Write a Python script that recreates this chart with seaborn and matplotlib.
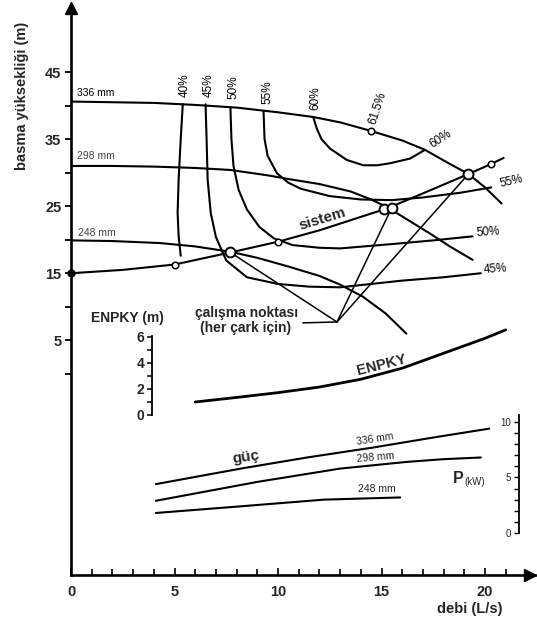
import matplotlib
matplotlib.use("Agg")
import matplotlib.pyplot as plt
import seaborn as sns

# Pump head curves H (m) against flow Q (L/s) for each impeller diameter
q_336 = [0, 2, 4, 6, 8, 10, 11.7, 13, 14.4, 16, 17.1, 18.3, 19.2, 20, 20.8]
h_336 = [40.6, 40.5, 40.4, 40.1, 39.7, 39.0, 38.3, 37.5, 36.3, 34.8, 33.4, 31.3, 29.8, 27.8, 25.4]
q_298 = [0, 2, 4, 6, 7.7, 9.5, 10.6, 12, 13.5, 14.5, 15.3, 16.3, 17.3, 18.3, 19.4]
h_298 = [31.0, 31.0, 30.9, 30.7, 30.4, 29.6, 29.0, 28.3, 27.2, 26.0, 24.8, 22.9, 21.0, 19.0, 17.0]
q_248 = [0, 2, 4.3, 6, 7.7, 9, 10.5, 12, 13, 14.1, 15.2, 16.2]
h_248 = [19.9, 19.8, 19.5, 19.0, 18.2, 17.3, 16.0, 14.6, 13.3, 11.5, 9.0, 6.0]

# System curve and its marked points
q_sys = [0, 2.5, 5, 7.7, 10, 12, 15.3, 17.3, 19.2, 20.3, 20.9]
h_sys = [15.0, 15.5, 16.3, 18.1, 19.7, 21.4, 24.7, 27.3, 29.8, 31.3, 32.2]
q_sys_pts = [5, 10, 20.3]
h_sys_pts = [16.3, 19.7, 31.3]
# Operating points (system curve x impeller curve)
q_op = [7.7, 15.1, 15.5, 19.2]
h_op = [18.1, 24.6, 24.8, 29.8]
# Best efficiency point on the 336 mm curve
q_best = [14.5]
h_best = [36.2]

# Iso-efficiency curves
q_e40 = [5.4, 5.3, 5.2, 5.15, 5.2, 5.3]
h_e40 = [40.2, 35.0, 29.0, 24.0, 20.5, 17.6]
q_e45 = [6.5, 6.55, 6.6, 6.75, 7.0, 7.5, 8.5, 10.0, 11.5, 13.0, 16.0, 18.0, 19.8]
h_e45 = [40.2, 35.0, 29.0, 24.0, 20.4, 16.9, 14.4, 13.4, 13.0, 12.9, 13.9, 14.4, 15.0]
q_e50 = [7.7, 7.75, 7.85, 8.1, 8.5, 9.1, 9.8, 10.7, 12.0, 13.0, 15.7, 17.5, 19.4]
h_e50 = [39.8, 35.0, 31.0, 27.4, 24.5, 21.9, 20.2, 19.2, 18.8, 18.7, 19.4, 19.9, 20.5]
q_e55 = [9.3, 9.35, 9.5, 9.95, 10.5, 11.1, 12.5, 14.0, 15.5, 17.0, 18.8, 20.3]
h_e55 = [39.2, 35.0, 32.5, 29.9, 28.5, 27.6, 26.5, 26.0, 25.9, 26.3, 27.0, 27.8]
q_e60 = [11.7, 11.87, 12.1, 12.51, 13.32, 14.12, 14.8, 15.41, 16.38, 17.1]
h_e60 = [38.3, 36.6, 35.0, 33.6, 31.9, 31.1, 31.1, 31.4, 32.1, 33.4]

# Net positive suction head required (m)
q_npsh = [6.0, 8.0, 10.0, 12.0, 14.0, 16.0, 18.0, 20.0, 21.0]
npsh = [1.0, 1.35, 1.72, 2.15, 2.75, 3.6, 4.75, 5.9, 6.55]

# Shaft power (kW)
q_p336 = [4.1, 8.2, 11.4, 14.6, 17.5, 20.2]
p_336 = [4.4, 5.8, 6.8, 7.7, 8.6, 9.4]
q_p298 = [4.1, 9.0, 13.0, 16.2, 18.0, 19.8]
p_298 = [2.9, 4.6, 5.8, 6.4, 6.65, 6.8]
q_p248 = [4.1, 8.2, 12.2, 14.0, 15.9]
p_248 = [1.8, 2.4, 3.0, 3.1, 3.2]

head_ticks = [5, 15, 25, 35, 45]
head_minor = [0, 10, 20, 30, 40]
flow_ticks = [0, 5, 10, 15, 20]
npsh_ticks = [0, 2, 4, 6]
power_ticks = [0, 5, 10]

sns.set_style("white")
plt.rcParams["font.family"] = ["Liberation Sans", "DejaVu Sans"]

fig = plt.figure(figsize=(5.37, 6.19), dpi=100)
ax = fig.add_axes([71 / 537, 44 / 619, 463.7 / 537, 570 / 619])
ax.set_xlim(0, 22.4)
ax.set_ylim(-30, 55)

for s in ["top", "right"]:
    ax.spines[s].set_visible(False)
for s in ["left", "bottom"]:
    ax.spines[s].set_linewidth(1.9)
    ax.spines[s].set_color("black")

ax.set_yticks(head_ticks)
ax.set_yticks(head_minor, minor=True)
ax.set_yticklabels([str(v) for v in head_ticks], fontsize=10.5, fontweight="bold")
ax.tick_params(axis="y", which="both", direction="out", left=True, width=1.3, color="black", pad=3)
ax.tick_params(axis="y", which="major", length=4)
ax.tick_params(axis="y", which="minor", length=4)
ax.set_xticks(flow_ticks)
ax.set_xticks(range(0, 22), minor=True)
ax.set_xticklabels([str(v) for v in flow_ticks], fontsize=10.5, fontweight="bold")
ax.tick_params(axis="x", which="both", direction="in", bottom=True, width=1.2, color="black", pad=7)
ax.tick_params(axis="x", which="major", length=5)
ax.tick_params(axis="x", which="minor", length=4)

# axis arrowheads
ax.plot([0], [54.6], marker="^", ms=8, color="k", clip_on=False)
ax.plot([22.15], [-30], marker=">", ms=8, color="k", clip_on=False)

line_kw = dict(color="black", linewidth=1.5, sort=False, estimator=None)
for qq, hh in [(q_336, h_336), (q_298, h_298), (q_248, h_248), (q_sys, h_sys)]:
    sns.lineplot(x=qq, y=hh, ax=ax, **line_kw)
for qq, hh in [(q_e40, h_e40), (q_e45, h_e45), (q_e50, h_e50), (q_e55, h_e55), (q_e60, h_e60)]:
    sns.lineplot(x=qq, y=hh, ax=ax, **line_kw)

# leader lines from the operating-point note
jx, jy = 12.85, 7.73
ax.plot([11.2, jx], [7.6, jy], color="black", lw=1.1)
for qo, ho in [(q_op[0], h_op[0]), (q_op[2], h_op[2]), (q_op[3], h_op[3])]:
    ax.annotate("", xy=(qo, ho), xytext=(jx, jy),
                arrowprops=dict(arrowstyle="-", lw=1.1, color="black", shrinkA=0, shrinkB=0))

sns.scatterplot(x=q_sys_pts + q_best, y=h_sys_pts + h_best, ax=ax, s=22, facecolor="white",
                edgecolor="black", linewidth=1.1, zorder=5)
sns.scatterplot(x=q_op, y=h_op, ax=ax, s=50, facecolor="white", edgecolor="black",
                linewidth=1.4, zorder=6)
ax.plot([0], [15], marker="o", ms=5, color="black", clip_on=False, zorder=7)

# text annotations on the head chart
small = dict(fontsize=8.5, color="black")
for lab, x, y in [("40%", 5.51, 43.1), ("45%", 6.67, 43.1), ("50%", 7.87, 42.8),
                  ("55%", 9.47, 42.0), ("60%", 11.79, 41.1)]:
    ax.text(x, y, lab, rotation=90, ha="center", va="center", **small)
ax.text(14.83, 39.6, "61.5%", rotation=72, ha="center", va="center", **small)
ax.text(17.87, 35.0, "60%", rotation=33, ha="center", va="center", **small)
ax.text(21.26, 28.75, "55%", rotation=13, ha="center", va="center", **small)
ax.text(20.14, 21.15, "50%", rotation=4, ha="center", va="center", **small)
ax.text(20.48, 15.63, "45%", rotation=4, ha="center", va="center", **small)
ax.text(0.29, 41.88, "336 mm", ha="left", va="center", fontsize=7.5, color="black")
ax.text(0.29, 32.48, "298 mm", ha="left", va="center", fontsize=7.5, color="#444444")
ax.text(0.33, 21.0, "248 mm", ha="left", va="center", fontsize=7.5, color="#444444")
ax.text(12.13, 23.1, "sistem", rotation=17, ha="center", va="center", fontsize=11,
        fontweight="bold")
ax.text(8.5, 9.07, "çalışma noktası", ha="center", va="center", fontsize=10, fontweight="bold")
ax.text(8.41, 6.83, "(her çark için)", ha="center", va="center", fontsize=10, fontweight="bold")

# NPSH scale
ax_e = ax.inset_axes([0, -6.14, 22.4, 13.57], transform=ax.transData)
ax_e.set_xlim(0, 22.4)
ax_e.set_ylim(0, 7)
ax_e.patch.set_alpha(0)
for s in ["top", "right", "bottom"]:
    ax_e.spines[s].set_visible(False)
ax_e.spines["left"].set_position(("data", 3.9))
ax_e.spines["left"].set_bounds(0, 6.1)
ax_e.spines["left"].set_linewidth(1.3)
ax_e.spines["left"].set_color("black")
ax_e.set_xticks([])
ax_e.set_yticks(npsh_ticks)
ax_e.set_yticks([1, 3, 5], minor=True)
ax_e.set_yticklabels([str(v) for v in npsh_ticks], fontsize=10, fontweight="bold")
ax_e.tick_params(axis="y", which="both", direction="out", left=True, length=3.5, width=1.1,
                 color="black", pad=2)
sns.lineplot(x=q_npsh, y=npsh, ax=ax_e, color="black", linewidth=2.0, sort=False, estimator=None)
ax_e.set_xlabel("")
ax_e.set_ylabel("")
ax.text(2.71, 8.33, "ENPKY (m)", ha="center", va="center", fontsize=10, fontweight="bold")
ax.text(15.0, 1.35, "ENPKY", rotation=14, ha="center", va="center", fontsize=10.5,
        fontweight="bold")

# power scale
ax_p = ax.inset_axes([0, -23.73, 22.4, 17.54], transform=ax.transData)
ax_p.set_xlim(0, 22.4)
ax_p.set_ylim(0, 10.6)
ax_p.patch.set_alpha(0)
for s in ["top", "right", "bottom"]:
    ax_p.spines[s].set_visible(False)
ax_p.spines["left"].set_position(("data", 21.64))
ax_p.spines["left"].set_linewidth(1.3)
ax_p.spines["left"].set_color("black")
ax_p.set_xticks([])
ax_p.set_yticks(power_ticks)
ax_p.set_yticks(range(0, 11), minor=True)
ax_p.set_yticklabels([str(v) for v in power_ticks], fontsize=7)
ax_p.tick_params(axis="y", which="both", direction="out", left=True, length=3.5, width=1.0,
                 color="black", pad=2)
for qq, pp in [(q_p336, p_336), (q_p298, p_298), (q_p248, p_248)]:
    sns.lineplot(x=qq, y=pp, ax=ax_p, color="black", linewidth=1.5, sort=False, estimator=None)
ax_p.set_xlabel("")
ax_p.set_ylabel("")
ax.text(8.45, -12.5, "güç", rotation=8, ha="center", va="center", fontsize=11, fontweight="bold")
ax.text(14.69, -9.7, "336 mm", rotation=9, ha="center", va="center", fontsize=7.5)
ax.text(14.73, -12.5, "298 mm", rotation=5, ha="center", va="center", fontsize=7.5)
ax.text(14.78, -17.2, "248 mm", ha="center", va="center", fontsize=7.5)
ax.text(18.7, -15.68, "P", ha="center", va="center", fontsize=11.5, fontweight="bold")
ax.text(19.0, -16.2, "(kW)", ha="left", va="center", fontsize=7)

ax.text(19.28, -35.1, "debi (L/s)", ha="center", va="center", fontsize=10.5,
        fontweight="bold", clip_on=False)
fig.text(22 / 537, 1 - 96 / 619, "basma yüksekliği (m)", rotation=90, ha="center",
         va="center", fontsize=10.5, fontweight="bold")

fig.savefig("out.png", dpi=100, facecolor="white")
